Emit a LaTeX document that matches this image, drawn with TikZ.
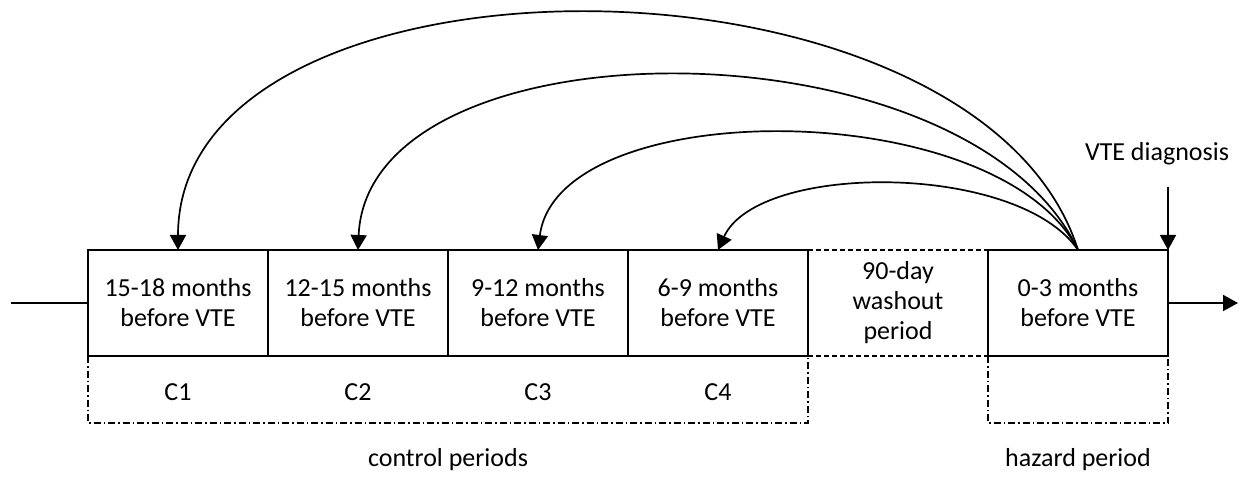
\documentclass[tikz,border=0pt]{standalone}
\usepackage{fontspec}
\setmainfont{Carlito}
\usetikzlibrary{positioning,arrows.meta}
\tikzset{
  period/.style = {draw, line width=1.7pt, outer sep=0pt, inner sep=0pt, minimum width=180pt, minimum height=106pt, align=center, font=\fontsize{26}{30}\selectfont},
  washout/.style = {period, draw=none},
  lbl/.style = {inner sep=0pt, font=\fontsize{26}{30}\selectfont},
  bracket/.style = {line width=1.2pt, dash pattern=on 7pt off 3pt on 1.5pt off 3pt},
  dashline/.style = {line width=1.3pt, dash pattern=on 5pt off 3pt},
  link/.style = {line width=1.7pt, -{Triangle[width=16pt,length=15pt]}},
  axis/.style = {line width=1.9pt}
}
\begin{document}
\begin{tikzpicture}[x=1pt,y=-1pt]
	\useasboundingbox (0,0) rectangle (1241,486);
	\node [period] (b1) at (178,303) {15-18 months\\before VTE};
	\node [period, right=0pt of b1] (b2) {12-15 months\\before VTE};
	\node [period, right=0pt of b2] (b3) {9-12 months\\before VTE};
	\node [period, right=0pt of b3] (b4) {6-9 months\\before VTE};
	\node [washout, right=0pt of b4] (b5) {90-day\\washout\\period};
	\node [period, right=0pt of b5] (b6) {0-3 months\\before VTE};
	\draw [dashline] (b5.north west) -- (b5.north east);
	\draw [dashline] (b5.south west) -- (b5.south east);

	\draw [bracket] (b1.south west) -- ++(0,67) -| (b4.south east);
	\draw [bracket] (b6.south west) -- ++(0,67) -| (b6.south east);
	\node [lbl] (c1) at (b1 |- 0,392) {C1};
	\node [lbl] (c2) at (b2 |- 0,392) {C2};
	\node [lbl] (c3) at (b3 |- 0,392) {C3};
	\node [lbl] (c4) at (b4 |- 0,392) {C4};
	\node [lbl] (ctl) at (b2.east |- 0,460) {control periods};
	\node [lbl] (hz) at (b6 |- 0,460) {hazard period};

	\coordinate (t0) at (11,303);
	\coordinate (t1) at (1238,303);
	\draw [axis] (t0) -- (b1.west);
	\draw [axis, -{Triangle[width=16pt,length=15pt]}] (b6.east) -- (t1);

	\node [lbl] (dx) at (1157,154) {VTE diagnosis};
	\coordinate (dg) at (1168,187);
	\draw [link] (dg) -- (b6.north east);

	\draw [link] (b6.north) .. controls +(-100,-316) and +(0,-316) .. (b1.north);
	\draw [link] (b6.north) .. controls +(-110,-233) and +(10,-233) .. (b2.north);
	\draw [link] (b6.north) .. controls +(-80,-156) and +(20,-156) .. (b3.north);
	\draw [link] (b6.north) .. controls +(-60,-88) and +(40,-88) .. (b4.north);
\end{tikzpicture}
\end{document}
